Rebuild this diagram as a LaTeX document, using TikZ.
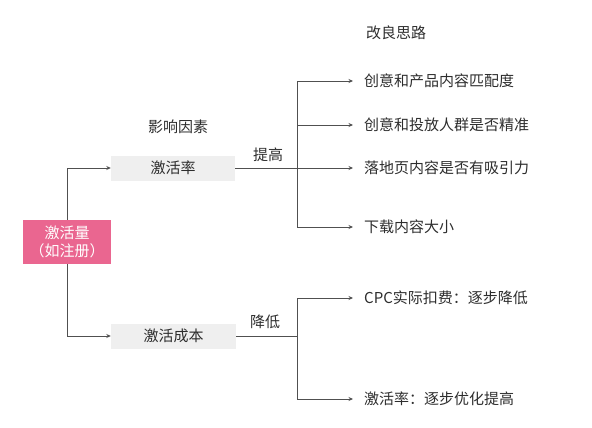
\documentclass[tikz,border=0pt]{standalone}
\usepackage{fontspec}
\usepackage{tikz}
\usepackage{xcolor}
\usetikzlibrary{arrows.meta}
\setmainfont{Noto Sans CJK SC}
\definecolor{rosebox}{RGB}{234,102,144}
\definecolor{greybox}{RGB}{239,239,239}
\definecolor{inkgrey}{RGB}{45,45,45}
\definecolor{linegrey}{RGB}{80,80,80}

\begin{document}
\begin{tikzpicture}[x=1pt,y=-1pt,
  every node/.style={font=\fontsize{15}{17}\selectfont,text=inkgrey},
  link/.style={draw=linegrey,line width=0.8pt},
  arr/.style={link,-{Stealth[length=4.5pt,width=4pt]}},
  factor/.style={fill=greybox,minimum height=25pt,inner sep=0pt},
  idea/.style={anchor=west,inner xsep=11pt,inner ysep=0pt}]
\useasboundingbox (0,0) rectangle (592,428);
% left: the quantity and its two factors
\node[fill=rosebox,text=white,minimum width=88pt,minimum height=44pt,inner sep=0pt,
      align=center,font=\fontsize{15}{17.5}\selectfont] (root) at (67,242) {激活量\\（如注册）};
\node[factor,minimum width=124pt] (rate) at (173,168) {激活率};
\node[factor,minimum width=125pt] (cost) at (173.5,336) {激活成本};
\node (factorhead) at (178,127) {影响因素};
\node (uplabel) at (268,155) {提高};
\node (downlabel) at (265,322) {降低};
\draw[arr] (root.north) |- (rate.west);
\draw[arr] (root.south) |- (cost.west);
% right: ideas for each factor
\node (ideahead) at (396,33) {改良思路};
\coordinate (up) at (297,168);
\coordinate (dn) at (297,336);
\node[idea] (i1) at (353,81) {创意和产品内容匹配度};
\node[idea] (i2) at (353,125) {创意和投放人群是否精准};
\node[idea] (i3) at (353,168) {落地页内容是否有吸引力};
\node[idea] (i4) at (353,227) {下载内容大小};
\node[idea] (c1) at (353,298) {CPC实际扣费：逐步降低};
\node[idea] (c2) at (353,399) {激活率：逐步优化提高};
\draw[link] (rate.east) -- (up);
\draw[arr] (up) |- (i1.west);
\draw[arr] (up) |- (i2.west);
\draw[arr] (up) -- (i3.west);
\draw[arr] (up) |- (i4.west);
\draw[link] (cost.east) -- (dn);
\draw[arr] (dn) |- (c1.west);
\draw[arr] (dn) |- (c2.west);
\end{tikzpicture}
\end{document}
